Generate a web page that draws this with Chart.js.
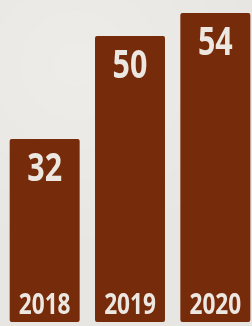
<!DOCTYPE html>
<html>
<head>
<meta charset="utf-8">
<script src="https://cdn.jsdelivr.net/npm/chart.js@4"></script>
<style>
    html, body { margin: 0; padding: 0; overflow: hidden; }
    body {
        width: 252px; height: 326px;
        background: #e8e6e2;
        background-image: radial-gradient(circle at 30% 20%, rgba(255,255,255,0.25), rgba(255,255,255,0) 60%);
    }
    #wrap { position: absolute; left: 0; top: 0; width: 260px; height: 326px; }
</style>
</head>
<body>
<div id="wrap"><canvas id="barChart"></canvas></div>
<script>
const years = ['2018', '2019', '2020'];
const values = [32, 50, 54];

const barColor = '#762b0a';
const textColor = '#ece8e1';
const fontFamily = '"Open Sans", "DejaVu Sans", sans-serif';

// Condensed look: draw bold text squeezed horizontally
function drawNarrow(ctx, text, x, y, size) {
    ctx.save();
    ctx.translate(x, y);
    ctx.scale(0.78, 1);
    ctx.font = 'bold ' + size + 'px ' + fontFamily;
    ctx.fillText(text, 0, 0);
    ctx.restore();
}

// Value near the top of each bar, year at its bottom
const barLabels = {
    id: 'barLabels',
    afterDatasetsDraw(chart) {
        const ctx = chart.ctx;
        const meta = chart.getDatasetMeta(0);
        ctx.save();
        ctx.fillStyle = textColor;
        ctx.textAlign = 'center';
        ctx.textBaseline = 'alphabetic';
        meta.data.forEach((bar, i) => {
            drawNarrow(ctx, String(values[i]), bar.x, bar.y + 42, 39);
            drawNarrow(ctx, years[i], bar.x, chart.chartArea.bottom - 8, 29);
        });
        ctx.restore();
    }
};

const ctx = document.getElementById('barChart').getContext('2d');
new Chart(ctx, {
    type: 'bar',
    data: {
        labels: years,
        datasets: [{
            data: values,
            backgroundColor: barColor,
            borderWidth: 0,
            borderRadius: 2,
            borderSkipped: false,
            barPercentage: 0.82,
            categoryPercentage: 1
        }]
    },
    options: {
        responsive: true,
        maintainAspectRatio: false,
        animation: false,
        layout: { padding: { left: 2, right: 2, top: 13, bottom: 4 } },
        scales: {
            x: { display: false },
            y: { display: false, min: 0, max: 54 }
        },
        plugins: { legend: { display: false }, tooltip: { enabled: false } }
    },
    plugins: [barLabels]
});
</script>
</body>
</html>
